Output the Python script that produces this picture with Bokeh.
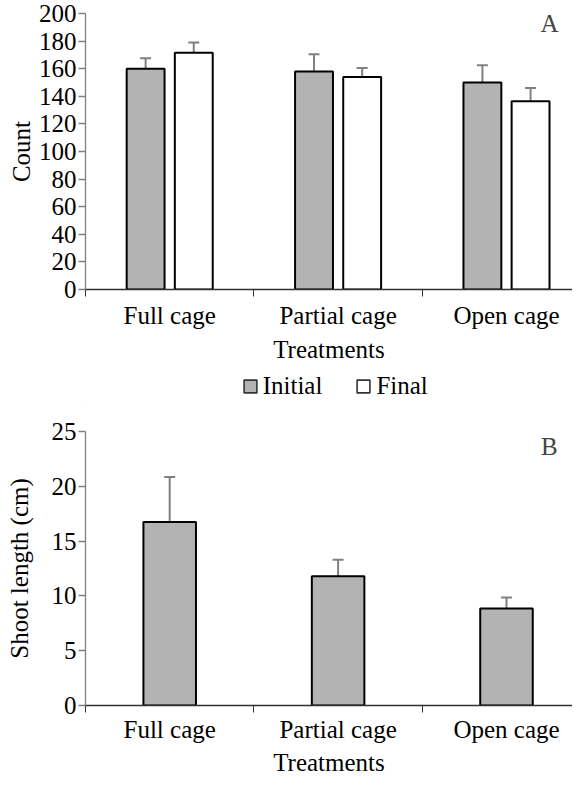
from bokeh.plotting import figure
from bokeh.models import (ColumnDataSource, Range1d, FixedTicker, Whisker, TeeHead,
                          Label, Legend, LegendItem)
from bokeh.layouts import column
from bokeh.transform import dodge
from bokeh.embed import file_html
from bokeh.resources import INLINE
import numpy as np

# ---------------- data ----------------
treatments = ["Full cage", "Partial cage", "Open cage"]
count_initial = [160, 158, 150]
count_initial_err = [7.5, 12.5, 12.5]
count_final = [171.5, 154, 136.5]
count_final_err = [7.5, 6.5, 9.5]
shoot_length = [16.75, 11.8, 8.85]
shoot_length_err = [4.1, 1.5, 1.0]
count_ticks = [0, 20, 40, 60, 80, 100, 120, 140, 160, 180, 200]
shoot_ticks = [0, 5, 10, 15, 20, 25]
series_names = ["Initial", "Final"]

# ---------------- style ----------------
FONT = "Liberation Serif"
FS = "25px"
BAR_FILL = "#b3b3b3"
ERR = "#808080"
AXIS_DARK = "#303030"
X_END = 2.892

centres = (np.arange(len(treatments)) + 0.5).tolist()
bounds = list(range(len(treatments) + 1))


def style_axes(p, yticks, label_standoff, axis_label_standoff):
    p.xgrid.visible = False
    p.ygrid.visible = False
    p.outline_line_color = None
    xa = p.xaxis[0]
    xa.ticker = FixedTicker(ticks=centres, minor_ticks=bounds)
    xa.major_label_overrides = {c: t for c, t in zip(centres, treatments)}
    xa.major_tick_line_color = None
    xa.major_tick_out = 0
    xa.major_tick_in = 0
    xa.minor_tick_out = 7
    xa.minor_tick_in = 0
    xa.minor_tick_line_color = AXIS_DARK
    xa.axis_line_color = AXIS_DARK
    xa.axis_line_width = 1.3
    xa.major_label_text_font = FONT
    xa.major_label_text_font_size = FS
    xa.major_label_text_color = "black"
    xa.major_label_standoff = label_standoff
    xa.axis_label = "Treatments"
    xa.axis_label_text_font = FONT
    xa.axis_label_text_font_size = FS
    xa.axis_label_text_font_style = "normal"
    xa.axis_label_text_color = "black"
    xa.axis_label_standoff = axis_label_standoff

    ya = p.yaxis[0]
    ya.ticker = FixedTicker(ticks=yticks)
    ya.axis_line_color = ERR
    ya.axis_line_width = 1.3
    ya.major_tick_line_color = ERR
    ya.major_tick_line_width = 1.3
    ya.major_tick_out = 7
    ya.major_tick_in = 0
    ya.minor_tick_line_color = None
    ya.major_label_text_font = FONT
    ya.major_label_text_font_size = FS
    ya.major_label_text_color = "black"
    ya.major_label_standoff = 2
    ya.axis_label_text_font = FONT
    ya.axis_label_text_font_size = FS
    ya.axis_label_text_font_style = "normal"
    ya.axis_label_text_color = "black"


# ---------------- panel A ----------------
src_a = ColumnDataSource(dict(
    x=centres,
    initial=count_initial,
    final=count_final,
    initial_up=[v + e for v, e in zip(count_initial, count_initial_err)],
    final_up=[v + e for v, e in zip(count_final, count_final_err)],
))

p1 = figure(width=572, frame_height=276, output_backend="svg", toolbar_location=None,
            x_range=Range1d(0, X_END), y_range=Range1d(0, 200),
            min_border_left=85, min_border_right=0, min_border_top=13,
            min_border_bottom=80)
style_axes(p1, count_ticks, 5, 4)
p1.yaxis[0].axis_label = "Count"
p1.yaxis[0].axis_label_standoff = 1

off = 0.143
w_a = 0.225
p1.vbar(x=dodge("x", -off), top="initial", width=w_a, source=src_a,
        fill_color=BAR_FILL, line_color="black", line_width=2)
p1.vbar(x=dodge("x", off), top="final", width=w_a, source=src_a,
        fill_color="white", line_color="black", line_width=2)
for xs, lo, up in [(-off, "initial", "initial_up"), (off, "final", "final_up")]:
    wk = Whisker(source=src_a, base=dodge("x", xs), lower=lo, upper=up,
                 dimension="height", line_color=ERR, line_width=2,
                 upper_head=TeeHead(size=11, line_color=ERR, line_width=2),
                 lower_head=None, level="underlay")
    p1.add_layout(wk)

p1.add_layout(Label(x=2.755, y=193, text="A", text_font=FONT, text_font_size=FS,
                    text_align="center", text_baseline="middle"))

# ---------------- legend strip ----------------
# legend swatches: off-screen helper bars (outside this strip's visible x range)
pl = figure(width=572, height=34, output_backend="svg", toolbar_location=None,
            x_range=Range1d(0, 1), y_range=Range1d(0, 1),
            x_axis_location=None, y_axis_location=None, min_border=0)
pl.xgrid.visible = False
pl.ygrid.visible = False
pl.outline_line_color = None
swatch_src = ColumnDataSource(dict(x=[-5.0], top=[0.0]))
leg_init = pl.vbar(x="x", top="top", width=0.1, source=swatch_src,
                   fill_color=BAR_FILL, line_color="#333333", line_width=1.6)
leg_fin = pl.vbar(x="x", top="top", width=0.1, source=swatch_src,
                  fill_color="white", line_color="#333333", line_width=1.6)
leg = Legend(items=[LegendItem(label=series_names[0], renderers=[leg_init]),
                    LegendItem(label=series_names[1], renderers=[leg_fin])],
             orientation="horizontal", location=(156.7, 3),
             label_text_font=FONT, label_text_font_size=FS,
             label_text_color="black",
             glyph_width=16, glyph_height=16, label_standoff=5, spacing=33,
             padding=0, margin=0, border_line_color=None,
             background_fill_alpha=0)
pl.add_layout(leg)

# ---------------- panel B ----------------
src_b = ColumnDataSource(dict(
    x=centres,
    length=shoot_length,
    length_up=[v + e for v, e in zip(shoot_length, shoot_length_err)],
))

p2 = figure(width=572, frame_height=274, output_backend="svg", toolbar_location=None,
            x_range=Range1d(0, X_END), y_range=Range1d(0, 25),
            min_border_left=85, min_border_right=0, min_border_top=28,
            min_border_bottom=0)
style_axes(p2, shoot_ticks, 3, 3)
p2.yaxis[0].axis_label = "Shoot length (cm)"
p2.yaxis[0].axis_label_standoff = 16

p2.vbar(x="x", top="length", width=0.312, source=src_b,
        fill_color=BAR_FILL, line_color="black", line_width=2)
p2.add_layout(Whisker(source=src_b, base="x", lower="length", upper="length_up",
                      dimension="height", line_color=ERR, line_width=2,
                      upper_head=TeeHead(size=11, line_color=ERR, line_width=2),
                      lower_head=None, level="underlay"))
p2.add_layout(Label(x=2.755, y=23.6, text="B", text_font=FONT, text_font_size=FS,
                    text_align="center", text_baseline="middle"))

layout = column(p1, pl, p2, spacing=0)
open("out.html", "w").write(file_html(layout, INLINE))
